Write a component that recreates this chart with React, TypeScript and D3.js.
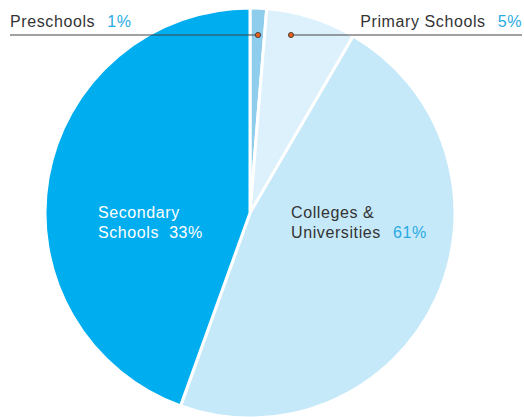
import React from "react";
import * as d3 from "d3";

const categories = ["Preschools", "Primary Schools", "Colleges & Universities", "Secondary Schools"];
const sliceShares = [1.3, 7.1, 47.1, 44.5];
const percentLabels = ["1%", "5%", "61%", "33%"];
const colors = ["#8fcdec", "#dcf1fc", "#c6e9f9", "#00adee"];

const W = 524, H = 417;
const cx = 250, cy = 213, R = 205;

export default function App() {
  const pie = d3.pie<number>().sort(null).value((d) => d)(sliceShares);
  const arc = d3.arc<d3.PieArcDatum<number>>().innerRadius(0).outerRadius(R);
  const font = "'Liberation Sans', Arial, sans-serif";
  const dotY = 35;
  const preDot = cx + 8;
  const priDot = cx + 41;
  return (
    <svg width={W} height={H} style={{ position: "absolute", left: 0, top: 0 }}>
      <rect width={W} height={H} fill="#fff" />
      <g transform={`translate(${cx},${cy})`}>
        {pie.map((p, i) => (
          <path key={i} d={arc(p) || ""} fill={colors[i]} stroke="#fff" strokeWidth={3} strokeLinejoin="round" />
        ))}
      </g>
      <g fontFamily={font} fontSize={16} letterSpacing={0.6}>
        <line x1={10} x2={preDot} y1={dotY} y2={dotY} stroke="#444" strokeWidth={1.2} />
        <line x1={priDot} x2={522} y1={dotY} y2={dotY} stroke="#444" strokeWidth={1.2} />
        <circle cx={preDot} cy={dotY} r={2.6} fill="#e8601c" stroke="#333" strokeWidth={0.8} />
        <circle cx={priDot} cy={dotY} r={2.6} fill="#e8601c" stroke="#333" strokeWidth={0.8} />
        <text x={10} y={27} fill="#333">
          {categories[0]}
          <tspan dx={12} fill="#29abe2">{percentLabels[0]}</tspan>
        </text>
        <text x={522} y={27} fill="#333" textAnchor="end">
          {categories[1]}
          <tspan dx={12} fill="#29abe2">{percentLabels[1]}</tspan>
        </text>
        <text x={98} y={218} fill="#fff">Secondary</text>
        <text x={98} y={237.5} fill="#fff">
          Schools
          <tspan dx={10}>{percentLabels[3]}</tspan>
        </text>
        <text x={291} y={218} fill="#333">Colleges &amp;</text>
        <text x={291} y={237.5} fill="#333">
          Universities
          <tspan dx={12} fill="#29abe2">{percentLabels[2]}</tspan>
        </text>
      </g>
    </svg>
  );
}
